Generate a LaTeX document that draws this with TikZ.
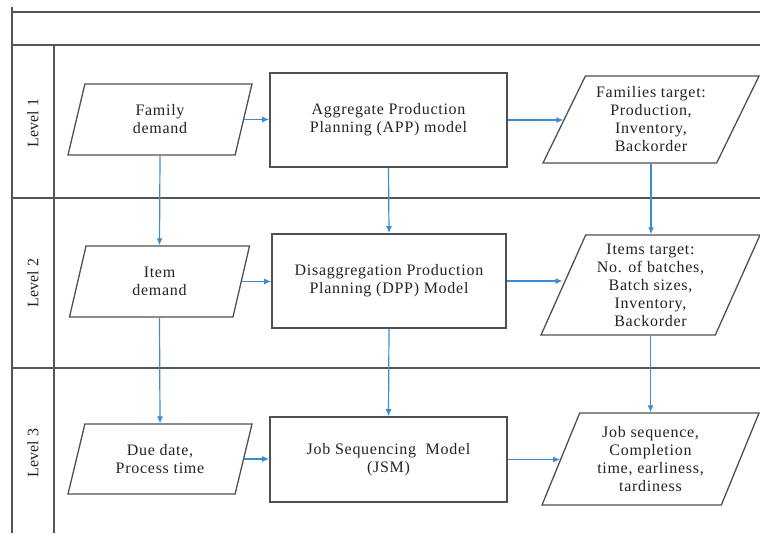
\documentclass[tikz,border=0pt]{standalone}
\usepackage{fontspec}
\setmainfont{Liberation Serif}[LetterSpace=4.5]
\newfontfamily\lanefont{Liberation Serif}
\usetikzlibrary{shapes.geometric,arrows.meta}
\definecolor{frameline}{RGB}{85,85,85}
\definecolor{boxline}{RGB}{80,80,80}
\definecolor{flow}{RGB}{62,142,206}
\definecolor{ink}{RGB}{35,35,35}
\tikzset{
  lane/.style={draw=frameline,line width=1.5pt},
  model/.style={draw=boxline,line width=1.6pt,fill=white,text=ink,align=center,
    inner sep=0pt,font=\fontsize{16}{18}\selectfont},
  datapara/.style={trapezium,trapezium stretches body,draw=boxline,line width=1.3pt,
    fill=white,text=ink,align=center,inner sep=0pt,font=\fontsize{16}{18}\selectfont},
  flowarrow/.style={draw=flow,line width=1.2pt,-{Latex[length=7pt,width=6pt]}},
  levellabel/.style={rotate=90,text=ink,font=\lanefont\fontsize{16}{18}\selectfont}
}
\begin{document}
\begin{tikzpicture}[x=1pt,y=-1pt]
\useasboundingbox (0,0) rectangle (760,533);

% swimlane frame
\draw[lane] (12,7) -- (12,533);
\draw[lane] (54,45) -- (54,533);
\draw[lane] (12,12) -- (760,12);
\draw[lane] (12,45) -- (760,45);
\draw[lane] (12,198) -- (760,198);
\draw[lane] (12,368) -- (760,368);

\node[levellabel] (l1) at (33,123) {Level 1};
\node[levellabel] (l2) at (33,283) {Level 2};
\node[levellabel] (l3) at (33,453) {Level 3};

% models
\node[model,minimum width=237pt,minimum height=94pt] (app) at (388.5,120)
  {Aggregate Production\\Planning (APP) model};
\node[model,minimum width=234pt,minimum height=94pt] (dpp) at (389,281)
  {Disaggregation Production\\Planning (DPP) Model};
\node[model,minimum width=237pt,minimum height=85pt] (jsm) at (388.5,459.5)
  {Job Sequencing\ \ Model\\(JSM)};

% inputs
\node[datapara,trapezium left angle=60,trapezium right angle=120,
  minimum width=184pt,minimum height=71pt] (fam) at (160,119.5) {Family\\demand};
\node[datapara,trapezium left angle=60,trapezium right angle=120,
  minimum width=180pt,minimum height=71pt] (item) at (159.5,281.5) {Item\\demand};
\node[datapara,trapezium left angle=60,trapezium right angle=120,
  minimum width=184pt,minimum height=70pt] (due) at (160,459) {Due date,\\Process time};

% targets
\node[datapara,trapezium left angle=57,trapezium right angle=123,
  minimum width=216pt,minimum height=87pt] (famt) at (651,119.5)
  {Families target:\\Production,\\Inventory,\\Backorder};
\node[datapara,trapezium left angle=61.6,trapezium right angle=118.4,
  minimum width=219pt,minimum height=100pt] (itemt) at (650.5,285)
  {Items target:\\No. of batches,\\Batch sizes,\\Inventory,\\Backorder};
\node[datapara,trapezium left angle=60,trapezium right angle=120,
  minimum width=217pt,minimum height=92pt] (jobt) at (650.5,459)
  {Job sequence,\\Completion\\time, earliness,\\tardiness};

% horizontal flows
\draw[flowarrow] (fam.east) -- (fam.east -| app.west);
\draw[flowarrow] (app.east) -- (app.east -| famt.west);
\draw[flowarrow] (item.east) -- (item.east -| dpp.west);
\draw[flowarrow] (dpp.east) -- (dpp.east -| itemt.west);
\draw[flowarrow] (due.east) -- (due.east -| jsm.west);
\draw[flowarrow] (jsm.east) -- (jsm.east -| jobt.west);

% vertical flows
\draw[flowarrow] (fam.south) -- (item.north);
\draw[flowarrow] (item.south) -- (due.north);
\draw[flowarrow] (app.south) -- (dpp.north);
\draw[flowarrow] (dpp.south) -- (jsm.north);
\draw[flowarrow] (famt.south) -- (famt.south |- itemt.north);
\draw[flowarrow] (itemt.south) -- (itemt.south |- jobt.north);
\end{tikzpicture}
\end{document}
